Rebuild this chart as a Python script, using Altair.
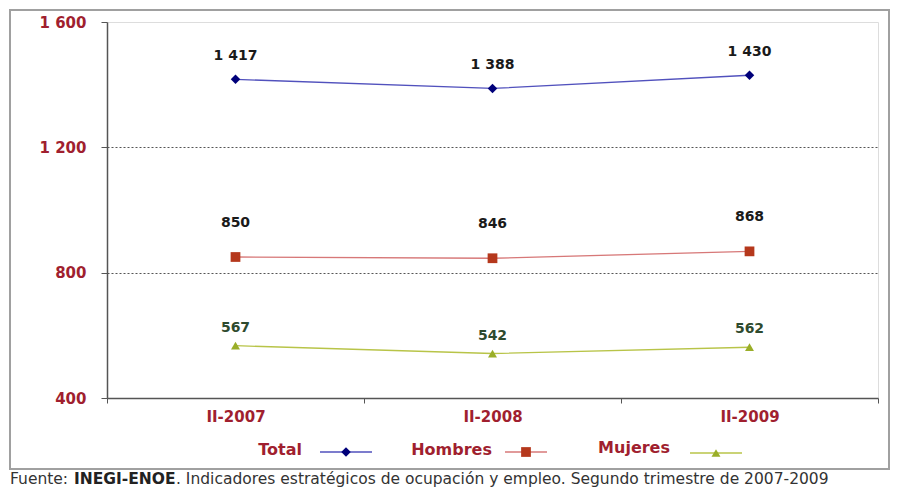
import altair as alt
import pandas as pd

# ---- data ----
periodos = ["II-2007", "II-2008", "II-2009"]
total = [1417, 1388, 1430]
hombres = [850, 846, 868]
mujeres = [567, 542, 562]
series = ["Total", "Hombres", "Mujeres"]
y_ticks = [400, 800, 1200, 1600]
fuente_a = ["Fuente:"]
fuente_b = ["INEGI-ENOE"]
fuente_c = [". Indicadores estratégicos de ocupación y empleo. Segundo  trimestre de 2007-2009"]

valores = {"Total": total, "Hombres": hombres, "Mujeres": mujeres}
df = pd.DataFrame(
    [{"periodo": p, "serie": s, "valor": v}
     for s in series for p, v in zip(periodos, valores[s])]
)

# ---- styles ----
FONT = "DejaVu Sans"
AXIS_RED = "#a01f2f"
style = {
    "Total":   dict(line="#5151bd", mark="#00007a", shape="diamond", size=90,
                    lab="#1a1a1a", dy=-23, tx=195, ty=428, ly=430, l1=213, l2=265),
    "Hombres": dict(line="#d77878", mark="#b5381c", shape="square", size=95,
                    lab="#1a1a1a", dy=-34, tx=385, ty=428, ly=430, l1=398, l2=440),
    "Mujeres": dict(line="#b8c448", mark="#9aae28", shape="triangle-up", size=80,
                    lab="#2e4a2e", dy=-18, tx=563, ty=426, ly=431, l1=583, l2=635),
}

W, H = 771, 376

x_enc = alt.X(
    "periodo:N", sort=periodos, title=None,
    scale=alt.Scale(type="band", domain=periodos, paddingInner=0, paddingOuter=0),
    axis=alt.Axis(tickBand="extent", labelAngle=0, labelFont=FONT, labelFontSize=15,
                  labelFontWeight="bold", labelColor=AXIS_RED, labelPadding=6,
                  tickSize=5, tickColor="#555", domainColor="#555", domainWidth=1.5,
                  grid=False),
)
y_enc = alt.Y(
    "valor:Q", title=None,
    scale=alt.Scale(domain=[400, 1600], nice=False, zero=False),
    axis=alt.Axis(values=y_ticks, labelFont=FONT, labelFontSize=15, labelFontWeight="bold",
                  labelColor=AXIS_RED, labelPadding=15, tickSize=6, tickColor="#555",
                  domainColor="#555", domainWidth=1.5, grid=True, gridColor="#555",
                  gridDash=[2, 2], gridWidth=1,
                  gridOpacity={"condition": {"test": "datum.value >= 1600 || datum.value <= 400",
                                             "value": 0}, "value": 1},
                  labelExpr="replace(format(datum.value, ','), ',', ' ')"),
)

base = alt.Chart(df)

frame = alt.Chart(pd.DataFrame({"serie": series[:1]})).mark_rect(
    fillOpacity=0, stroke="#a0a0a0", strokeWidth=2
).encode(x=alt.value(-97), x2=alt.value(782), y=alt.value(-12), y2=alt.value(447))

layers = [frame]
for s in series:
    st = style[s]
    sub = base.transform_filter(alt.datum.serie == s)
    layers.append(sub.mark_line(color=st["line"], strokeWidth=1.3).encode(x=x_enc, y=y_enc))
    layers.append(sub.mark_point(shape=st["shape"], filled=True, opacity=1, size=st["size"],
                                 color=st["mark"]).encode(x=x_enc, y=y_enc))
    layers.append(
        sub.transform_calculate(etiqueta="replace(format(datum.valor, ','), ',', ' ')")
        .mark_text(dy=st["dy"], font=FONT, fontSize=14, fontWeight="bold", color=st["lab"])
        .encode(x=x_enc, y=y_enc, text="etiqueta:N")
    )
    leg = alt.Chart(pd.DataFrame({"serie": [s]}))
    layers.append(leg.mark_text(align="right", baseline="middle", font=FONT, fontSize=16,
                                fontWeight="bold", color=AXIS_RED)
                  .encode(x=alt.value(st["tx"]), y=alt.value(st["ty"]), text="serie:N"))
    layers.append(leg.mark_rule(color=st["line"], strokeWidth=1.5)
                  .encode(x=alt.value(st["l1"]), x2=alt.value(st["l2"]), y=alt.value(st["ly"])))
    layers.append(leg.mark_point(shape=st["shape"], filled=True, opacity=1, size=st["size"],
                                 color=st["mark"])
                  .encode(x=alt.value((st["l1"] + st["l2"]) / 2), y=alt.value(st["ly"])))

FY = 462
fa = alt.Chart(pd.DataFrame({"t": fuente_a})).mark_text(
    align="left", baseline="alphabetic", font=FONT, fontSize=15.5, color="#333"
).encode(x=alt.value(-97), y=alt.value(FY), text="t:N")
fb = alt.Chart(pd.DataFrame({"t": fuente_b})).mark_text(
    align="left", baseline="alphabetic", font=FONT, fontSize=15.5, fontWeight="bold", color="#222"
).encode(x=alt.value(-33), y=alt.value(FY), text="t:N")
fc = alt.Chart(pd.DataFrame({"t": fuente_c})).mark_text(
    align="left", baseline="alphabetic", font=FONT, fontSize=15.5, color="#333"
).encode(x=alt.value(69), y=alt.value(FY), text="t:N")
layers += [fa, fb, fc]

chart = alt.layer(*layers).properties(
    width=W, height=H,
    autosize=alt.AutoSizeParams(type="none"),
    padding={"left": 99, "top": 14, "right": 13, "bottom": 91},
).configure_view(stroke="#9a9a9a", strokeWidth=1.5).configure(background="white")

chart.save("out.html", embed_options={"renderer": "svg", "actions": False})
